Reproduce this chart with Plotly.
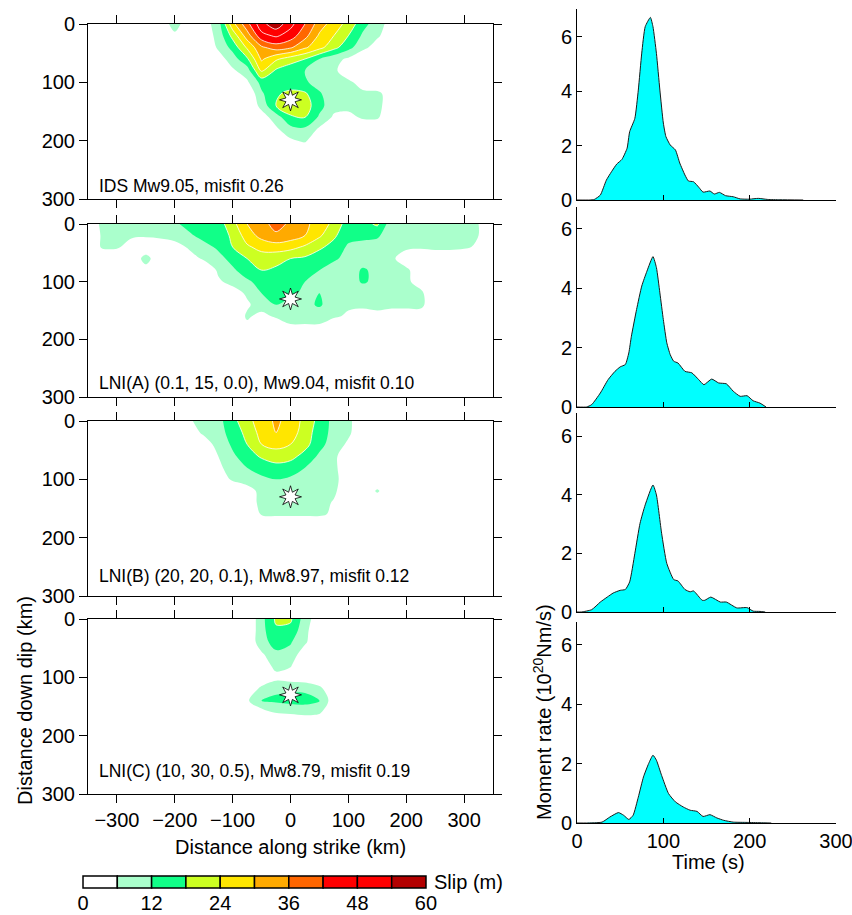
import math
import plotly.graph_objects as go

# ---------------- data ----------------
STRIKE_KM = [-350, -325, -300, -275, -250, -225, -200, -175, -150, -125, -100, -75, -50, -25,
             0, 25, 50, 75, 100, 125, 150, 175, 200, 225, 250, 275, 300, 325, 350]
DIP_KM = [0, 20, 40, 60, 80, 100, 120, 140, 160, 180, 200, 220, 240]

Z0 = [0] * 29

SLIP_IDS = [
    [0, 0, 0, 0, 0, 0, 10, 0, 3, 9, 28, 40, 52, 58, 50, 42, 33, 27, 22, 14, 9, 3, 0, 0, 0, 0, 0, 0, 0],
    [0, 0, 0, 0, 0, 0, 4, 0, 2, 8, 20, 33, 46, 49, 45, 38, 29, 24, 18, 11, 7, 2, 0, 0, 0, 0, 0, 0, 0],
    [0, 0, 0, 0, 0, 0, 0, 0, 0, 7, 14, 25, 35, 39, 37, 31, 26, 20, 14, 8, 3, 0, 0, 0, 0, 0, 0, 0, 0],
    [0, 0, 0, 0, 0, 0, 0, 0, 0, 3, 9, 17, 31, 25, 21, 18, 12, 8, 5, 0, 0, 0, 0, 0, 0, 0, 0, 0, 0],
    [0, 0, 0, 0, 0, 0, 0, 0, 0, 0, 5, 9, 25, 17, 14, 12, 8, 7, 3, 0, 0, 0, 0, 0, 0, 0, 0, 0, 0],
    [0, 0, 0, 0, 0, 0, 0, 0, 0, 0, 0, 5, 14, 15, 14, 13, 9, 8, 7, 4, 0, 0, 0, 0, 0, 0, 0, 0, 0],
    [0, 0, 0, 0, 0, 0, 0, 0, 0, 0, 0, 0, 11, 17, 20, 19, 13, 7, 7, 7, 8, 2, 0, 0, 0, 0, 0, 0, 0],
    [0, 0, 0, 0, 0, 0, 0, 0, 0, 0, 0, 0, 8, 18, 22, 21, 14, 8, 8, 9, 8, 2, 0, 0, 0, 0, 0, 0, 0],
    [0, 0, 0, 0, 0, 0, 0, 0, 0, 0, 0, 0, 3, 9, 17, 18, 11, 5, 4, 7, 7, 0, 0, 0, 0, 0, 0, 0, 0],
    [0, 0, 0, 0, 0, 0, 0, 0, 0, 0, 0, 0, 0, 5, 10, 11, 5, 0, 0, 0, 0, 0, 0, 0, 0, 0, 0, 0, 0],
    [0, 0, 0, 0, 0, 0, 0, 0, 0, 0, 0, 0, 0, 0, 5, 7, 0, 0, 0, 0, 0, 0, 0, 0, 0, 0, 0, 0, 0],
    list(Z0),
    list(Z0),
]

SLIP_LNI_A = [
    [0, 8, 8, 8, 8, 9, 11, 14, 14, 15, 22, 30, 34, 38, 35, 31, 28, 22, 15, 16, 19, 8, 7, 7, 7, 7, 7, 6, 0],
    [0, 7, 8, 7, 7, 8, 9, 11, 14, 15, 19, 27, 32, 35, 33, 30, 25, 19, 14, 15, 13, 8, 7, 7, 7, 7, 7, 6, 0],
    [0, 7, 7, 3, 0, 0, 3, 7, 10, 13, 18, 23, 26, 27, 26, 23, 19, 16, 11, 8, 9, 8, 7, 7, 8, 8, 7, 5, 0],
    [0, 0, 0, 0, 9, 0, 0, 3, 7, 10, 14, 18, 21, 20, 18, 17, 15, 13, 10, 8, 8, 7, 3, 0, 0, 0, 0, 0, 0],
    [0, 0, 0, 0, 3, 0, 0, 0, 0, 7, 11, 15, 18, 17, 15, 14, 12, 9, 8, 13, 10, 8, 7, 3, 0, 0, 0, 0, 0],
    [0, 0, 0, 0, 0, 0, 0, 0, 0, 5, 8, 11, 14, 14, 14, 12, 9, 8, 8, 13, 10, 8, 7, 4, 0, 0, 0, 0, 0],
    [0, 0, 0, 0, 0, 0, 0, 0, 0, 0, 3, 7, 12, 14, 13, 11, 12, 8, 8, 7, 8, 8, 7, 7, 2, 0, 0, 0, 0],
    [0, 0, 0, 0, 0, 0, 0, 0, 0, 0, 0, 5, 9, 12, 10, 10, 13, 8, 7, 7, 8, 7, 7, 7, 3, 0, 0, 0, 0],
    [0, 0, 0, 0, 0, 0, 0, 0, 0, 0, 0, 7, 4, 7, 8, 8, 8, 7, 5, 4, 4, 4, 4, 4, 0, 0, 0, 0, 0],
    [0, 0, 0, 0, 0, 0, 0, 0, 0, 0, 0, 4, 0, 0, 5, 5, 5, 0, 0, 0, 0, 0, 0, 0, 0, 0, 0, 0, 0],
    list(Z0),
    list(Z0),
    list(Z0),
]

SLIP_LNI_B = [
    [0, 0, 0, 0, 0, 0, 0, 5, 9, 10, 16, 22, 27, 31, 28, 22, 16, 10, 7, 3, 0, 0, 0, 0, 0, 0, 0, 0, 0],
    [0, 0, 0, 0, 0, 0, 0, 3, 7, 10, 14, 20, 26, 30, 27, 21, 15, 10, 7, 2, 0, 0, 0, 0, 0, 0, 0, 0, 0],
    [0, 0, 0, 0, 0, 0, 0, 0, 3, 8, 13, 18, 24, 26, 24, 20, 14, 9, 5, 0, 0, 0, 0, 0, 0, 0, 0, 0, 0],
    [0, 0, 0, 0, 0, 0, 0, 0, 0, 6, 11, 15, 19, 21, 20, 16, 11, 7, 3, 0, 0, 0, 0, 0, 0, 0, 0, 0, 0],
    [0, 0, 0, 0, 0, 0, 0, 0, 0, 5, 8, 12, 14, 16, 15, 12, 9, 7, 3, 0, 0, 0, 0, 0, 0, 0, 0, 0, 0],
    [0, 0, 0, 0, 0, 0, 0, 0, 0, 2, 7, 9, 11, 12, 11, 10, 8, 7, 4, 0, 0, 0, 0, 0, 0, 0, 0, 0, 0],
    [0, 0, 0, 0, 0, 0, 0, 0, 0, 0, 0, 3, 8, 9, 9, 8, 8, 7, 2, 0, 7, 0, 0, 0, 0, 0, 0, 0, 0],
    [0, 0, 0, 0, 0, 0, 0, 0, 0, 0, 0, 2, 8, 8, 8, 8, 8, 5.5, 0, 0, 0, 0, 0, 0, 0, 0, 0, 0, 0],
    [0, 0, 0, 0, 0, 0, 0, 0, 0, 0, 0, 0, 6.5, 7, 7, 7, 7, 5, 0, 0, 0, 0, 0, 0, 0, 0, 0, 0, 0],
    list(Z0),
    list(Z0),
    list(Z0),
    list(Z0),
]

SLIP_LNI_C = [
    [0, 0, 0, 0, 0, 0, 0, 0, 0, 0, 0, 0, 10, 19, 19, 9, 2, 0, 0, 0, 0, 0, 0, 0, 0, 0, 0, 0, 0],
    [0, 0, 0, 0, 0, 0, 0, 0, 0, 0, 0, 0, 10, 17, 16, 8, 0, 0, 0, 0, 0, 0, 0, 0, 0, 0, 0, 0, 0],
    [0, 0, 0, 0, 0, 0, 0, 0, 0, 0, 0, 0, 10, 14, 12.5, 7, 0, 0, 0, 0, 0, 0, 0, 0, 0, 0, 0, 0, 0],
    [0, 0, 0, 0, 0, 0, 0, 0, 0, 0, 0, 0, 5, 11, 10, 2, 0, 0, 0, 0, 0, 0, 0, 0, 0, 0, 0, 0, 0],
    [0, 0, 0, 0, 0, 0, 0, 0, 0, 0, 0, 0, 2, 8, 6.5, 0, 0, 0, 0, 0, 0, 0, 0, 0, 0, 0, 0, 0, 0],
    [0, 0, 0, 0, 0, 0, 0, 0, 0, 0, 0, 0, 0, 4, 3, 2, 0, 0, 0, 0, 0, 0, 0, 0, 0, 0, 0, 0, 0],
    [0, 0, 0, 0, 0, 0, 0, 0, 0, 0, 0, 0, 8, 11, 11, 11, 8, 0, 0, 0, 0, 0, 0, 0, 0, 0, 0, 0, 0],
    [0, 0, 0, 0, 0, 0, 0, 0, 0, 0, 0, 5, 12, 13, 14, 14, 12.5, 2, 0, 0, 0, 0, 0, 0, 0, 0, 0, 0, 0],
    [0, 0, 0, 0, 0, 0, 0, 0, 0, 0, 0, 0, 3, 6.5, 7, 8, 7, 0, 0, 0, 0, 0, 0, 0, 0, 0, 0, 0, 0],
    list(Z0),
    list(Z0),
    list(Z0),
    list(Z0),
]

SLIP_MODELS = [SLIP_IDS, SLIP_LNI_A, SLIP_LNI_B, SLIP_LNI_C]
MODEL_LABELS = [
    "IDS Mw9.05, misfit 0.26",
    "LNI(A) (0.1, 15, 0.0), Mw9.04, misfit 0.10",
    "LNI(B) (20, 20, 0.1), Mw8.97, misfit 0.12",
    "LNI(C) (10, 30, 0.5), Mw8.79, misfit 0.19",
]
HYPO_STRIKE_KM = 0
HYPO_DIP_KM = 130

SLIP_EDGES = [0, 6, 12, 18, 24, 30, 36, 42, 48, 54, 60]
SLIP_COLORS = ["#ffffff", "#aaffcc", "#11ff88", "#ccff22", "#ffe600",
               "#ffaa00", "#ff6600", "#ff0000", "#ff0000", "#b30000"]
SLIP_TICKS = [0, 12, 24, 36, 48, 60]

T_IDS = [0, 15, 20, 27, 34, 40, 46, 52, 58, 61, 67, 71, 75, 79, 85, 88, 92, 96, 100, 103,
         108, 114, 119, 125, 129, 135, 141, 146, 154, 159, 165, 172, 181, 189, 200, 210, 221, 235, 262]
MR_IDS = [0, 0, 0.02, 0.18, 0.73, 1.04, 1.32, 1.49, 1.9, 2.51, 3.0, 4.04, 5.4, 6.37, 6.71, 6.37,
          5.39, 4.04, 2.83, 2.33, 2.02, 1.84, 1.36, 0.92, 0.7, 0.67, 0.47, 0.29, 0.33, 0.22, 0.28,
          0.16, 0.12, 0.04, 0.03, 0.06, 0.02, 0.01, 0]

T_LNI_A = [0, 11, 17, 27, 36, 44, 50, 56, 60, 63, 69, 75, 81, 88, 92, 96, 100, 104, 108, 112,
           117, 125, 133, 141, 147, 156, 164, 173, 181, 189, 197, 204, 212, 219]
MR_LNI_A = [0, 0, 0.08, 0.47, 0.92, 1.2, 1.35, 1.43, 1.82, 2.38, 3.28, 4.07, 4.57, 5.06, 4.69,
            3.84, 2.94, 2.16, 1.76, 1.54, 1.48, 1.2, 1.15, 0.92, 0.75, 0.94, 0.81, 0.78, 0.53,
            0.36, 0.38, 0.21, 0.13, 0]

T_LNI_B = [0, 5, 17, 27, 35, 42, 50, 56, 61, 67, 73, 79, 88, 92, 98, 104, 112, 117, 125, 131,
           135, 145, 148, 155, 166, 173, 185, 197, 204, 212, 218]
MR_LNI_B = [0, 0, 0.08, 0.34, 0.51, 0.65, 0.74, 0.77, 1.03, 2.0, 3.03, 3.66, 4.34, 4.0, 2.69,
            1.66, 1.11, 1.06, 0.77, 0.69, 0.72, 0.4, 0.4, 0.51, 0.34, 0.34, 0.14, 0.15, 0.03,
            0.02, 0]

T_LNI_C = [0, 11, 29, 38, 48, 54, 60, 65, 71, 77, 83, 88, 92, 98, 106, 114, 123, 131, 139, 146,
           154, 162, 170, 181, 197, 212, 225]
MR_LNI_C = [0, 0, 0.03, 0.2, 0.35, 0.26, 0.12, 0.26, 0.87, 1.55, 2.0, 2.28, 2.11, 1.6, 0.99,
            0.71, 0.54, 0.43, 0.39, 0.22, 0.28, 0.17, 0.09, 0.03, 0.02, 0.01, 0]

MOMENT_T = [T_IDS, T_LNI_A, T_LNI_B, T_LNI_C]
MOMENT_V = [MR_IDS, MR_LNI_A, MR_LNI_B, MR_LNI_C]

# ---------------- layout geometry (pixels) ----------------
W, H = 852, 915
FONT = "Liberation Sans, Arial, Helvetica, sans-serif"
LEFT_X = (88, 493)
LEFT_Y = [(24, 199), (224, 397), (421, 596), (619, 794)]
RIGHT_X = (577, 836)
RIGHT_Y = [(9, 200), (207, 407), (413, 612), (622, 823)]
RIGHT_TOP = [7.02, 6.73, 6.8, 6.76]
LABEL_DIP = [277, 275, 265, 260]


def xd(a, b):
    return [a / W, b / W]


def yd(top, bot):
    return [1 - bot / H, 1 - top / H]


fig = go.Figure()
layout = dict(
    width=W, height=H, margin=dict(l=0, r=0, t=0, b=0, pad=0, autoexpand=False),
    paper_bgcolor="white", plot_bgcolor="white", showlegend=False,
    font=dict(family=FONT, size=20, color="black"),
)

colorscale = [[k / (len(SLIP_COLORS) - 1), c] for k, c in enumerate(SLIP_COLORS)]
step = SLIP_EDGES[1] - SLIP_EDGES[0]

annotations = []
for i, grid in enumerate(SLIP_MODELS):
    n = i + 1
    xa, ya = f"x{n}", f"y{n}"
    fig.add_trace(go.Contour(
        x=STRIKE_KM, y=DIP_KM, z=grid, xaxis=xa, yaxis=ya,
        autocontour=False,
        contours=dict(start=SLIP_EDGES[1], end=SLIP_EDGES[-2], size=step,
                      coloring="fill", showlines=False),
        colorscale=colorscale, showscale=False, line=dict(width=0),
        hoverinfo="skip",
    ))
    fig.add_trace(go.Contour(
        x=STRIKE_KM, y=DIP_KM, z=grid, xaxis=xa, yaxis=ya,
        autocontour=False,
        contours=dict(start=SLIP_EDGES[3], end=SLIP_EDGES[-2], size=step,
                      coloring="none"),
        line=dict(color="white", width=0.8), showscale=False,
        hoverinfo="skip",
    ))
    # hypocentre star (8 points)
    sx, sy = [], []
    for k in range(17):
        ang = math.pi / 2 + k * math.pi / 8
        r = 19 if k % 2 == 0 else 8.5
        sx.append(HYPO_STRIKE_KM + r * math.cos(ang))
        sy.append(HYPO_DIP_KM - r * math.sin(ang))
    fig.add_trace(go.Scatter(
        x=sx, y=sy, xaxis=xa, yaxis=ya, mode="lines", fill="toself",
        fillcolor="white", line=dict(color="black", width=0.8), hoverinfo="skip",
    ))
    annotations.append(dict(
        xref=xa, yref=ya, x=-334, y=LABEL_DIP[i], text=MODEL_LABELS[i],
        showarrow=False, xanchor="left", yanchor="middle",
        font=dict(family=FONT, size=17.5, color="black"),
    ))
    axis_common = dict(showline=True, linecolor="black", linewidth=1, mirror="ticks",
                       ticks="outside", ticklen=8, tickwidth=1, tickcolor="black",
                       showgrid=False, zeroline=False, automargin=False,
                       ticklabeloverflow="allow",
                       tickfont=dict(family=FONT, size=20, color="black"))
    layout[f"xaxis{n}"] = dict(domain=xd(*LEFT_X), range=[-350, 350], anchor=ya,
                               tickvals=[-300, -200, -100, 0, 100, 200, 300],
                               showticklabels=(n == 4), **axis_common)
    layout[f"yaxis{n}"] = dict(domain=yd(*LEFT_Y[i]), range=[300, 0], anchor=xa,
                               tickvals=[0, 100, 200, 300], **axis_common)

for i in range(4):
    n = i + 5
    xa, ya = f"x{n}", f"y{n}"
    fig.add_trace(go.Scatter(
        x=MOMENT_T[i], y=MOMENT_V[i], xaxis=xa, yaxis=ya, mode="lines",
        fill="tozeroy", fillcolor="#00ffff",
        line=dict(color="#1a1a1a", width=1, shape="spline", smoothing=0.5),
        hoverinfo="skip",
    ))
    common = dict(showline=True, linecolor="black", linewidth=1, mirror=False,
                  ticks="inside", ticklen=5, tickwidth=1, tickcolor="black",
                  showgrid=False, zeroline=False, automargin=False,
                  ticklabeloverflow="allow",
                  tickfont=dict(family=FONT, size=20, color="black"))
    layout[f"xaxis{n}"] = dict(domain=xd(*RIGHT_X), range=[0, 300], anchor=ya,
                               tickvals=[0, 100, 200, 300], showticklabels=(n == 8),
                               **common)
    layout[f"yaxis{n}"] = dict(domain=yd(*RIGHT_Y[i]), range=[0, RIGHT_TOP[i]], anchor=xa,
                               tickvals=[0, 2, 4, 6], **common)

# ---------------- discrete slip colour bar ----------------
centers = [(SLIP_EDGES[k] + SLIP_EDGES[k + 1]) / 2 for k in range(len(SLIP_COLORS))]
widths = [SLIP_EDGES[k + 1] - SLIP_EDGES[k] for k in range(len(SLIP_COLORS))]
fig.add_trace(go.Bar(
    x=centers, y=[1] * len(centers), width=widths, base=0,
    marker=dict(color=SLIP_COLORS, line=dict(color="black", width=1.5)),
    xaxis="x9", yaxis="y9", hoverinfo="skip",
))
layout["xaxis9"] = dict(domain=xd(81.3, 427.7), range=[-0.3, 60.3], anchor="y9",
                        tickvals=SLIP_TICKS, showline=False, showgrid=False, zeroline=False,
                        ticks="", automargin=False, ticklabeloverflow="allow",
                        tickfont=dict(family=FONT, size=20, color="black"))
layout["yaxis9"] = dict(domain=yd(874.8, 889.2), range=[-0.1, 1.1], anchor="x9",
                        visible=False, fixedrange=True, automargin=False)

annotations += [
    dict(xref="paper", yref="paper", x=432 / W, y=1 - 882 / H, text="Slip (m)",
         showarrow=False, xanchor="left", yanchor="middle", font=dict(size=20)),
    dict(xref="paper", yref="paper", x=290 / W, y=1 - 847 / H,
         text="Distance along strike (km)", showarrow=False,
         xanchor="center", yanchor="middle", font=dict(size=20)),
    dict(xref="paper", yref="paper", x=708 / W, y=1 - 862 / H, text="Time (s)",
         showarrow=False, xanchor="center", yanchor="middle", font=dict(size=20)),
    dict(xref="paper", yref="paper", x=25 / W, y=1 - 701 / H,
         text="Distance down dip (km)", textangle=-90, showarrow=False,
         xanchor="center", yanchor="middle", font=dict(size=20)),
    dict(xref="paper", yref="paper", x=542 / W, y=1 - 712 / H,
         text="Moment rate (10<sup>20</sup>Nm/s)", textangle=-90, showarrow=False,
         xanchor="center", yanchor="middle", font=dict(size=20)),
]
layout["annotations"] = annotations
layout["bargap"] = 0

fig.update_layout(**layout)
fig.write_html(
    "out.html",
    config={"displayModeBar": False, "staticPlot": True},
    post_script="document.body.style.margin='0px';document.body.style.overflow='hidden';",
)
